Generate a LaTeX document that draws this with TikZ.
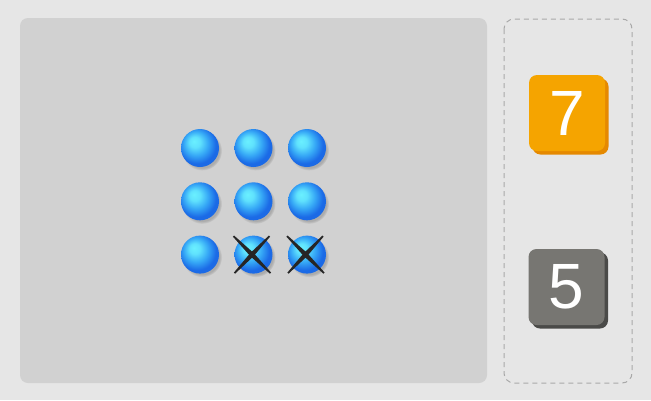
\documentclass[tikz,border=0pt]{standalone}
\usepackage{fontspec}
\setmainfont{Liberation Sans}
\usepackage{xcolor}
\definecolor{bgcol}       {HTML}{E6E6E6}
\definecolor{panelcol}    {HTML}{D1D1D1}
\definecolor{dashcol}     {HTML}{A9A9A9}
\definecolor{orangebox}   {HTML}{F5A400}
\definecolor{orangeshadow}{HTML}{E58900}
\definecolor{greybox}     {HTML}{777672}
\definecolor{greyshadow}  {HTML}{4A4A48}
\definecolor{ballhi}      {HTML}{6AF0FF}
\definecolor{ballmid}     {HTML}{36A8F6}
\definecolor{balledge}    {HTML}{1B6AE6}
\definecolor{crossink}    {HTML}{262626}
\usetikzlibrary{shadows}
\pgfdeclareradialshading{bluesphere}{\pgfpoint{-8bp}{9bp}}{%
  color(0bp)=(ballhi); color(7bp)=(ballhi!80!ballmid);
  color(16bp)=(ballmid); color(25bp)=(balledge); color(50bp)=(balledge)}
\tikzset{ % Setup for the picture
ball/.style={circle, minimum size=38pt, inner sep=0pt, shading=bluesphere,
  circular drop shadow={shadow xshift=2pt, shadow yshift=-2.5pt, shadow scale=1.05, opacity=0.45}},
numbox/.style={rounded corners=8pt, minimum size=76pt, inner sep=0pt, text=white,
  font=\fontsize{64}{64}\selectfont},
}

\begin{document}
\begin{tikzpicture}[x=1pt, y=-1pt]
    \useasboundingbox (0,0) rectangle (651,400);
    \fill[bgcol] (0,0) rectangle (651,400);
    \fill[panelcol, rounded corners=8pt] (20,18) rectangle (487,383);
    \draw[dashcol, line width=1pt, dash pattern=on 5pt off 4pt, rounded corners=10pt] (504,19) rectangle (632,383);
    % the balls
    \foreach \r in {1,2,3}
        \foreach \c in {1,2,3}
            \node [ball] (b\r\c) at ({200+53.5*(\c-1)},{148+53.3*(\r-1)}) {};
    % crossed out
    \foreach \n in {b32,b33}{
        \begin{scope}[shift={(\n)}]
            \fill[crossink] (-19.43,-19.07) -- (0.13,-1.63) -- (17.57,17.93) -- (16.43,19.07) -- (-3.13,1.63) -- (-20.57,-17.93) -- cycle;
            \fill[crossink] (16.57,-17.93) -- (0.13,1.63) -- (-18.43,19.07) -- (-19.57,17.93) -- (-3.13,-1.63) -- (15.43,-19.07) -- cycle;
        \end{scope}
    }
    % the numbers
    \node [numbox, fill=orangebox, general shadow={fill=orangeshadow, shadow xshift=3.5pt, shadow yshift=-3.5pt}] (seven) at (567,113) {7};
    \node [numbox, fill=greybox, general shadow={fill=greyshadow, shadow xshift=3.5pt, shadow yshift=-3.5pt}] (five) at (566.5,287) {5};
\end{tikzpicture}
\end{document}
